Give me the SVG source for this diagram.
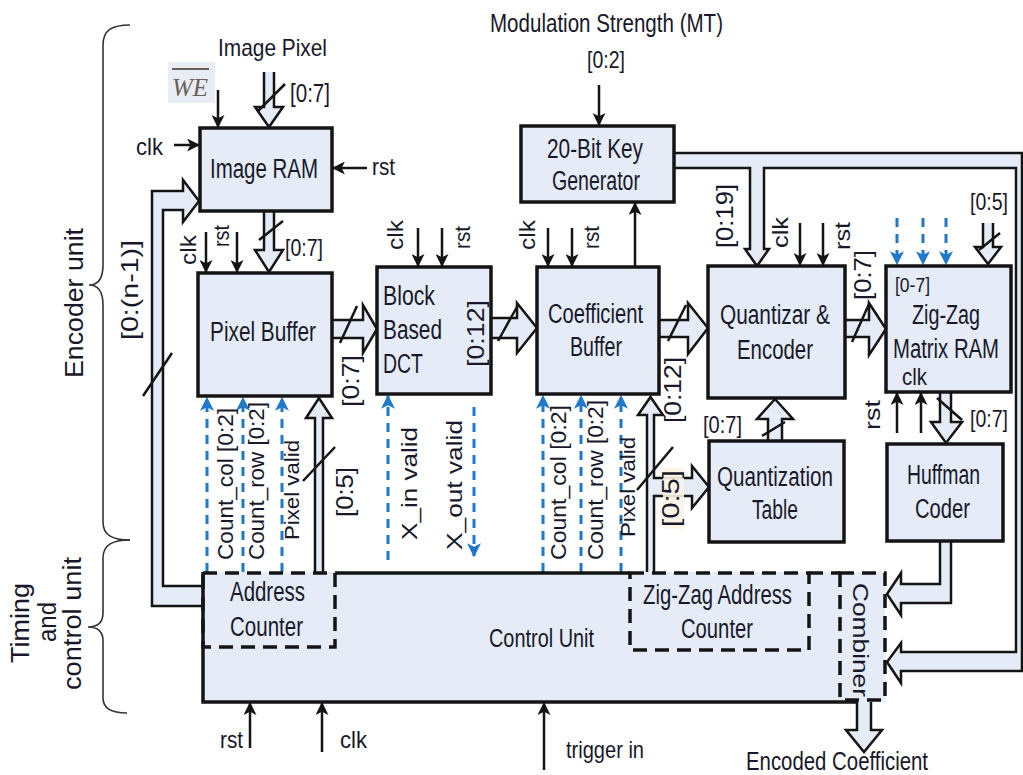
<svg xmlns="http://www.w3.org/2000/svg" width="1023" height="775" viewBox="0 0 1023 775">
<defs>
<style>
.bx{fill:#e5ecf7;stroke:#141414;stroke-width:3.5}
.t{font-family:"Liberation Sans",Arial,sans-serif;fill:#18182a}
.f27{font-size:27px}.f26{font-size:26px}.f24{font-size:24px}.f22{font-size:22px}.f20{font-size:20px}
.ln{stroke:#141414;stroke-width:2.5;fill:none}
.bus{fill:#e5ecf7;stroke:#141414;stroke-width:2.5;stroke-linejoin:miter}
.bl{stroke:#1f78c8;stroke-width:3;stroke-dasharray:9 7;fill:none}
.dsh{fill:none;stroke:#141414;stroke-width:3.5;stroke-dasharray:14 8}
.sl{stroke:#141414;stroke-width:2.5}
.br{fill:none;stroke:#333;stroke-width:1.6}
</style>
<marker id="ah" viewBox="0 0 12 12" refX="11" refY="6" markerWidth="13" markerHeight="13" markerUnits="userSpaceOnUse" orient="auto"><path d="M0,0 L12,6 L0,12 L3,6 z" fill="#141414"/></marker>
<marker id="ahb" viewBox="0 0 12 12" refX="11" refY="6" markerWidth="14" markerHeight="14" markerUnits="userSpaceOnUse" orient="auto"><path d="M0,0 L12,6 L0,12 L3,6 z" fill="#1f78c8"/></marker>
</defs>
<rect width="1023" height="775" fill="#ffffff"/>

<!-- braces and side labels -->
<g id="side-labels">
<path class="br" d="M130,25 C112,25 103,30 103,45 L103,265 C103,279 98,285 89,285 C98,285 103,291 103,305 L103,522 C103,535 112,540 130,540"/>
<path class="br" d="M130,540 C112,540 103,545 103,558 L103,613 C103,622 98,627 88,627 C98,627 103,632 103,641 L103,698 C103,708 112,713 127,713"/>
<text class="t f26" transform="translate(83,378) rotate(-90)" textLength="150" lengthAdjust="spacingAndGlyphs">Encoder unit</text>
<text class="t f26" transform="translate(29,663) rotate(-90)" textLength="80" lengthAdjust="spacingAndGlyphs">Timing</text>
<text class="t f26" transform="translate(56,642) rotate(-90)" textLength="40" lengthAdjust="spacingAndGlyphs">and</text>
<text class="t f26" transform="translate(81,690) rotate(-90)" textLength="133" lengthAdjust="spacingAndGlyphs">control unit</text>
</g>

<!-- connectors -->
<g id="connectors">
<!-- hollow buses -->
<path class="bus" d="M264,72 L264,107 L255,107 L269,127 L283,107 L274,107 L274,72"/>
<path class="bus" d="M264,211 L264,250 L255,250 L269,272 L283,250 L274,250 L274,211"/>
<path class="bus" d="M332,320 L363,320 L363,305 L377,329 L363,353 L363,338 L332,338"/>
<path class="bus" d="M491,318 L517,318 L517,303 L537,328 L517,353 L517,338 L491,338"/>
<path class="bus" d="M659,320 L688,320 L688,303 L708,328 L688,354 L688,337 L659,337"/>
<path class="bus" d="M845,320 L869,320 L869,303 L886,329 L869,355 L869,337 L845,337"/>
<path class="bus" d="M983,223 L983,247 L975,247 L988,264 L1001,247 L993,247 L993,223"/>
<path class="bus" d="M940,392 L940,422 L931,422 L946,443 L962,422 L951,422 L951,392"/>
<path class="bus" d="M768,441 L768,419 L757,419 L775,399 L793,419 L782,419 L782,441"/>
<path class="bus" d="M647,573 L647,415 L638,415 L650.5,397 L663,415 L654,415 L654,478 L692,478 L692,466 L709,487 L692,508 L692,496 L654,496 L654,573"/>
<path class="bus" d="M315,573 L315,418 L306,418 L319,398 L332,418 L323,418 L323,573"/>
<path class="bus" d="M203,606 L152,606 L152,191 L183,191 L183,180 L199,201 L183,222 L183,210 L163,210 L163,586 L203,586"/>
<path class="bus" d="M940,541 L940,584 L901,584 L901,573 L887,594 L901,615 L901,603 L951,603 L951,541"/>
<path class="bus" d="M674,153 L1022,153 L1022,671 L901,671 L901,683 L887,662 L901,643 L901,652 L1016,652 L1016,168 L764,168 L764,249 L769,249 L757,266 L745,249 L750,249 L750,168 L674,168"/>
<path class="bus" d="M857,702 L857,730 L846,730 L864,752 L882,730 L871,730 L871,702"/>
<!-- bus slashes -->
<line class="sl" x1="258" y1="111" x2="285" y2="84"/>
<line class="sl" x1="259" y1="240" x2="283" y2="221"/>
<line class="sl" x1="340" y1="343" x2="357" y2="306"/>
<line class="sl" x1="498" y1="341" x2="518" y2="305"/>
<line class="sl" x1="668" y1="341" x2="686" y2="305"/>
<line class="sl" x1="852" y1="342" x2="869" y2="304"/>
<line class="sl" x1="979" y1="250" x2="1000" y2="233"/>
<line class="sl" x1="937" y1="398" x2="962" y2="420"/>
<line class="sl" x1="762" y1="436" x2="785" y2="422"/>
<line class="sl" x1="637" y1="490" x2="673" y2="447"/>
<line class="sl" x1="303" y1="481" x2="335" y2="447"/>
<line class="sl" x1="143" y1="396" x2="172" y2="353"/>
<!-- thin control arrows -->
<line class="ln" x1="218" y1="90" x2="218" y2="127" marker-end="url(#ah)"/>
<line class="ln" x1="174" y1="145" x2="199" y2="145" marker-end="url(#ah)"/>
<line class="ln" x1="367" y1="168" x2="333" y2="168" marker-end="url(#ah)"/>
<line class="ln" x1="599" y1="85" x2="599" y2="125" marker-end="url(#ah)"/>
<line class="ln" x1="206" y1="232" x2="206" y2="272" marker-end="url(#ah)"/>
<line class="ln" x1="237" y1="232" x2="237" y2="272" marker-end="url(#ah)"/>
<line class="ln" x1="418" y1="228" x2="418" y2="266" marker-end="url(#ah)"/>
<line class="ln" x1="442" y1="228" x2="442" y2="266" marker-end="url(#ah)"/>
<line class="ln" x1="548" y1="228" x2="548" y2="266" marker-end="url(#ah)"/>
<line class="ln" x1="572" y1="228" x2="572" y2="266" marker-end="url(#ah)"/>
<line class="ln" x1="800" y1="223" x2="800" y2="265" marker-end="url(#ah)"/>
<line class="ln" x1="823" y1="223" x2="823" y2="265" marker-end="url(#ah)"/>
<line class="ln" x1="635" y1="267" x2="635" y2="203" marker-end="url(#ah)"/>
<line class="ln" x1="897" y1="433" x2="897" y2="393" marker-end="url(#ah)"/>
<line class="ln" x1="921" y1="433" x2="921" y2="393" marker-end="url(#ah)"/>
<line class="ln" x1="250" y1="748" x2="250" y2="703" marker-end="url(#ah)"/>
<line class="ln" x1="322" y1="752" x2="322" y2="703" marker-end="url(#ah)"/>
<line class="ln" x1="544" y1="770" x2="544" y2="703" marker-end="url(#ah)"/>
<!-- blue dashed status signals -->
<line class="bl" x1="207" y1="572" x2="207" y2="398" marker-end="url(#ahb)"/>
<line class="bl" x1="243" y1="572" x2="243" y2="398" marker-end="url(#ahb)"/>
<line class="bl" x1="282" y1="572" x2="282" y2="398" marker-end="url(#ahb)"/>
<line class="bl" x1="388" y1="560" x2="388" y2="396" marker-end="url(#ahb)"/>
<line class="bl" x1="474" y1="407" x2="474" y2="556" marker-end="url(#ahb)"/>
<line class="bl" x1="543" y1="572" x2="543" y2="396" marker-end="url(#ahb)"/>
<line class="bl" x1="581" y1="572" x2="581" y2="396" marker-end="url(#ahb)"/>
<line class="bl" x1="621" y1="572" x2="621" y2="396" marker-end="url(#ahb)"/>
<line class="bl" x1="897" y1="218" x2="897" y2="264" marker-end="url(#ahb)"/>
<line class="bl" x1="923" y1="218" x2="923" y2="264" marker-end="url(#ahb)"/>
<line class="bl" x1="946" y1="218" x2="946" y2="264" marker-end="url(#ahb)"/>
</g>

<!-- nodes -->
<g id="image-ram">
<rect class="bx" x="200" y="128" width="132" height="83"/>
<text class="t f27" x="210" y="178" textLength="108" lengthAdjust="spacingAndGlyphs">Image RAM</text>
</g>
<g id="key-generator">
<rect class="bx" x="521" y="126" width="153" height="76"/>
<text class="t f27" x="547" y="158" textLength="96" lengthAdjust="spacingAndGlyphs">20-Bit Key</text>
<text class="t f27" x="552" y="190" textLength="88" lengthAdjust="spacingAndGlyphs">Generator</text>
</g>
<g id="pixel-buffer">
<rect class="bx" x="198" y="273" width="134" height="123"/>
<text class="t f27" x="210" y="341" textLength="106" lengthAdjust="spacingAndGlyphs">Pixel Buffer</text>
</g>
<g id="block-dct">
<rect class="bx" x="377" y="267" width="114" height="127"/>
<text class="t f27" x="383" y="305" textLength="52" lengthAdjust="spacingAndGlyphs">Block</text>
<text class="t f27" x="383" y="339" textLength="59" lengthAdjust="spacingAndGlyphs">Based</text>
<text class="t f27" x="383" y="373" textLength="40" lengthAdjust="spacingAndGlyphs">DCT</text>
</g>
<g id="coefficient-buffer">
<rect class="bx" x="537" y="267" width="122" height="127"/>
<text class="t f27" x="548" y="323" textLength="95" lengthAdjust="spacingAndGlyphs">Coefficient</text>
<text class="t f27" x="570" y="356" textLength="52" lengthAdjust="spacingAndGlyphs">Buffer</text>
</g>
<g id="quantizer-encoder">
<rect class="bx" x="708" y="266" width="137" height="132"/>
<text class="t f27" x="720" y="324" textLength="110" lengthAdjust="spacingAndGlyphs">Quantizar &amp;</text>
<text class="t f27" x="737" y="359" textLength="76" lengthAdjust="spacingAndGlyphs">Encoder</text>
</g>
<g id="zigzag-ram">
<rect class="bx" x="886" y="266" width="125" height="126"/>
<text class="t f20" x="895" y="292" textLength="35" lengthAdjust="spacingAndGlyphs">[0-7]</text>
<text class="t f27" x="912" y="324" textLength="68" lengthAdjust="spacingAndGlyphs">Zig-Zag</text>
<text class="t f27" x="893" y="358" textLength="106" lengthAdjust="spacingAndGlyphs">Matrix RAM</text>
<text class="t f24" x="902" y="385" textLength="25" lengthAdjust="spacingAndGlyphs">clk</text>
</g>
<g id="quantization-table">
<rect class="bx" x="709" y="441" width="135" height="101"/>
<text class="t f27" x="717" y="486" textLength="116" lengthAdjust="spacingAndGlyphs">Quantization</text>
<text class="t f27" x="752" y="519" textLength="46" lengthAdjust="spacingAndGlyphs">Table</text>
</g>
<g id="huffman-coder">
<rect class="bx" x="887" y="444" width="116" height="97"/>
<text class="t f27" x="907" y="484" textLength="73" lengthAdjust="spacingAndGlyphs">Huffman</text>
<text class="t f27" x="915" y="518" textLength="55" lengthAdjust="spacingAndGlyphs">Coder</text>
</g>
<g id="control-unit">
<rect x="203" y="572" width="682" height="130" fill="#e5ecf7"/>
<path class="ln" style="stroke-width:3.5" d="M203,572 L203,702 L858,702 M335,573 L630,573"/>
<text class="t f26" x="489" y="647" textLength="105" lengthAdjust="spacingAndGlyphs">Control Unit</text>
<g id="address-counter">
<rect class="dsh" x="203" y="573" width="132" height="74"/>
<text class="t f27" x="230" y="601" textLength="75" lengthAdjust="spacingAndGlyphs">Address</text>
<text class="t f27" x="230" y="636" textLength="73" lengthAdjust="spacingAndGlyphs">Counter</text>
</g>
<g id="zigzag-address-counter">
<rect class="dsh" x="630" y="573" width="179" height="77"/>
<text class="t f27" x="643" y="604" textLength="149" lengthAdjust="spacingAndGlyphs">Zig-Zag Address</text>
<text class="t f27" x="681" y="638" textLength="72" lengthAdjust="spacingAndGlyphs">Counter</text>
</g>
<line class="dsh" x1="809" y1="573" x2="840" y2="573"/>
<g id="combiner">
<rect class="dsh" x="840" y="573" width="45" height="127"/>
<text class="t f22" transform="translate(853,583) rotate(90)" textLength="114" lengthAdjust="spacingAndGlyphs">Combiner</text>
</g>
</g>

<!-- signal labels -->
<g id="labels">
<rect x="168" y="62" width="47" height="41" fill="#e8edf5"/>
<text x="172" y="96" style="font-family:'Liberation Serif','Times New Roman',serif;font-style:italic;font-size:26px;fill:#6a6058" textLength="36" lengthAdjust="spacingAndGlyphs">WE</text>
<line x1="172" y1="69" x2="209" y2="69" stroke="#6a6058" stroke-width="2"/>
<text class="t f24" x="218" y="56" textLength="109" lengthAdjust="spacingAndGlyphs">Image Pixel</text>
<text class="t f26" x="490" y="32" textLength="233" lengthAdjust="spacingAndGlyphs">Modulation Strength (MT)</text>
<text class="t f24" x="587" y="68" textLength="38" lengthAdjust="spacingAndGlyphs">[0:2]</text>
<text class="t f26" x="290" y="102" textLength="40" lengthAdjust="spacingAndGlyphs">[0:7]</text>
<text class="t f24" x="136" y="155" textLength="27" lengthAdjust="spacingAndGlyphs">clk</text>
<text class="t f24" x="372" y="175" textLength="23" lengthAdjust="spacingAndGlyphs">rst</text>
<text class="t f24" x="285" y="256" textLength="38" lengthAdjust="spacingAndGlyphs">[0:7]</text>
<text class="t f24" x="970" y="210" textLength="38" lengthAdjust="spacingAndGlyphs">[0:5]</text>
<text class="t f24" x="970" y="427" textLength="38" lengthAdjust="spacingAndGlyphs">[0:7]</text>
<text class="t f24" x="703" y="433" textLength="39" lengthAdjust="spacingAndGlyphs">[0:7]</text>
<text class="t f24" x="220" y="748" textLength="23" lengthAdjust="spacingAndGlyphs">rst</text>
<text class="t f24" x="340" y="748" textLength="27" lengthAdjust="spacingAndGlyphs">clk</text>
<text class="t f24" x="566" y="758" textLength="78" lengthAdjust="spacingAndGlyphs">trigger in</text>
<text class="t f26" x="746" y="770" textLength="182" lengthAdjust="spacingAndGlyphs">Encoded Coefficient</text>
<!-- vertical labels -->
<text class="t f24" transform="translate(138,340) rotate(-90)" textLength="100" lengthAdjust="spacingAndGlyphs">[0:(n-1)]</text>
<text class="t f22" transform="translate(196,265) rotate(-90)" textLength="30" lengthAdjust="spacingAndGlyphs">clk</text>
<text class="t f22" transform="translate(229,247) rotate(-90)" textLength="22" lengthAdjust="spacingAndGlyphs">rst</text>
<text class="t f22" transform="translate(403,250) rotate(-90)" textLength="30" lengthAdjust="spacingAndGlyphs">clk</text>
<text class="t f22" transform="translate(470,249) rotate(-90)" textLength="23" lengthAdjust="spacingAndGlyphs">rst</text>
<text class="t f22" transform="translate(535,250) rotate(-90)" textLength="30" lengthAdjust="spacingAndGlyphs">clk</text>
<text class="t f22" transform="translate(599,249) rotate(-90)" textLength="23" lengthAdjust="spacingAndGlyphs">rst</text>
<text class="t f22" transform="translate(788,248) rotate(-90)" textLength="31" lengthAdjust="spacingAndGlyphs">clk</text>
<text class="t f22" transform="translate(850,250) rotate(-90)" textLength="28" lengthAdjust="spacingAndGlyphs">rst</text>
<text class="t f22" transform="translate(880,430) rotate(-90)" textLength="30" lengthAdjust="spacingAndGlyphs">rst</text>
<text class="t f24" transform="translate(359,407) rotate(-90)" textLength="52" lengthAdjust="spacingAndGlyphs">[0:7]</text>
<text class="t f24" transform="translate(484,367) rotate(-90)" textLength="67" lengthAdjust="spacingAndGlyphs">[0:12]</text>
<text class="t f24" transform="translate(733,248) rotate(-90)" textLength="64" lengthAdjust="spacingAndGlyphs">[0:19]</text>
<text class="t f24" transform="translate(871,300) rotate(-90)" textLength="50" lengthAdjust="spacingAndGlyphs">[0:7]</text>
<text class="t f24" transform="translate(681,423) rotate(-90)" textLength="66" lengthAdjust="spacingAndGlyphs">[0:12]</text>
<rect x="663" y="468" width="21" height="61" fill="#fcf4e4" opacity="0.9"/>
<text class="t f24" transform="translate(679,527) rotate(-90)" textLength="57" lengthAdjust="spacingAndGlyphs">[0:5]</text>
<text class="t f24" transform="translate(353,517) rotate(-90)" textLength="50" lengthAdjust="spacingAndGlyphs">[0:5]</text>
<text class="t f22" transform="translate(233,560) rotate(-90)" textLength="152" lengthAdjust="spacingAndGlyphs">Count_col [0:2]</text>
<text class="t f22" transform="translate(264,560) rotate(-90)" textLength="158" lengthAdjust="spacingAndGlyphs">Count_row [0:2]</text>
<text class="t f20" transform="translate(299,540) rotate(-90)" textLength="100" lengthAdjust="spacingAndGlyphs">Pixel valid</text>
<text class="t f22" transform="translate(417,540) rotate(-90)" textLength="113" lengthAdjust="spacingAndGlyphs">X_in valid</text>
<text class="t f22" transform="translate(462,550) rotate(-90)" textLength="130" lengthAdjust="spacingAndGlyphs">X_out valid</text>
<text class="t f22" transform="translate(566,560) rotate(-90)" textLength="155" lengthAdjust="spacingAndGlyphs">Count_col [0:2]</text>
<text class="t f22" transform="translate(603,560) rotate(-90)" textLength="160" lengthAdjust="spacingAndGlyphs">Count_row [0:2]</text>
<text class="t f20" transform="translate(635,537) rotate(-90)" textLength="100" lengthAdjust="spacingAndGlyphs">Pixel valid</text>
</g>
</svg>
